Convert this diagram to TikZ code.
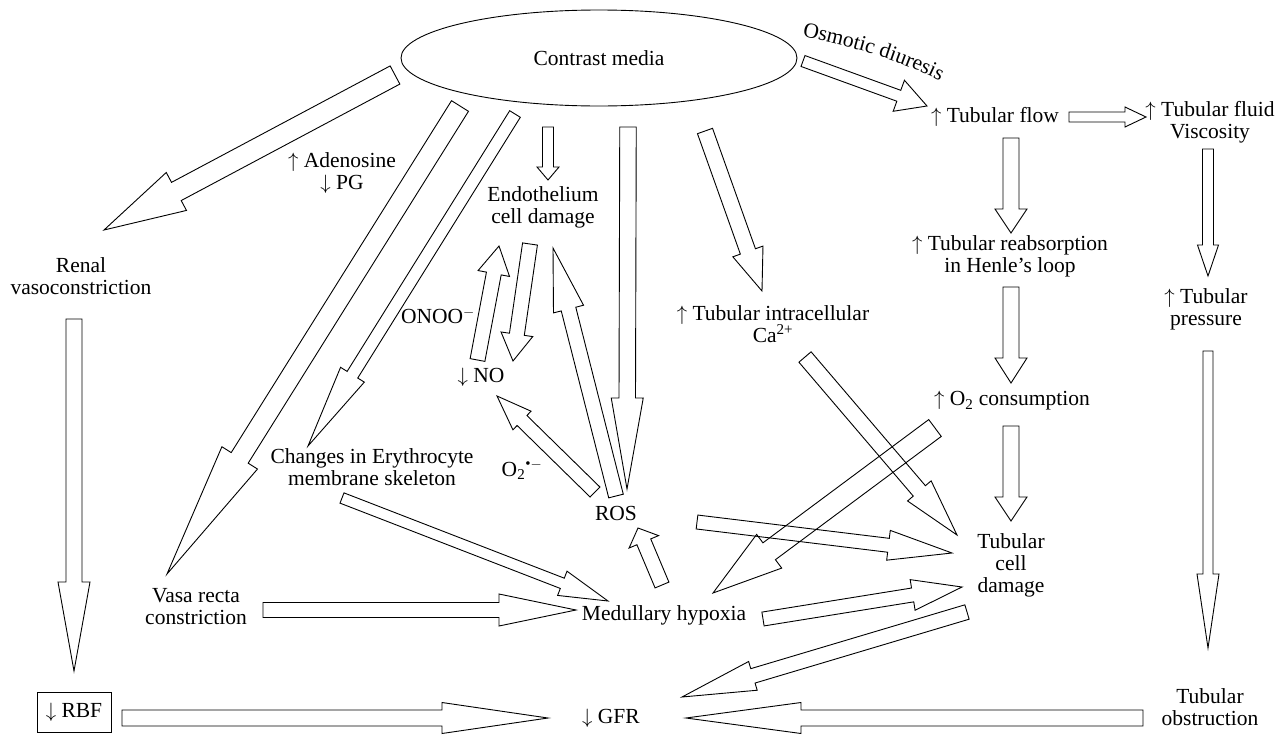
\documentclass[tikz,border=0pt]{standalone}
\usepackage{fontspec}
\setmainfont{Liberation Serif}
\usetikzlibrary{calc,shapes.geometric,decorations.text}

\tikzset{
  blockarrow/.style={draw=black, line width=0.9pt, line join=miter},
  lbl/.style={align=center, inner sep=0pt, font=\fontsize{21.5}{22}\selectfont},
}
% hollow block arrow: tail, tip, half shaft, half head, head length
\newcommand{\fatarrow}[5]{%
  \path ($(#2)!#5pt!(#1)$) coordinate (fa-b);
  \draw[blockarrow] ($(#1)!#3pt!90:(#2)$) -- ($(fa-b)!#3pt!-90:(#1)$)
    -- ($(fa-b)!#4pt!-90:(#1)$) -- (#2) -- ($(fa-b)!#4pt!90:(#1)$)
    -- ($(fa-b)!#3pt!90:(#1)$) -- ($(#1)!#3pt!-90:(#2)$) -- cycle;
}

\begin{document}
\begin{tikzpicture}[x=1pt, y=-1pt]
  \useasboundingbox (0,0) rectangle (1283,734);
  % labels
  \node[lbl, ellipse, draw, line width=0.9pt, minimum width=396pt, minimum height=96pt] (cm) at (599,58) {Contrast media};
  \path[decorate, decoration={text along path, text align=center,
      text={|\fontsize{21.5}{22}\selectfont|Osmotic diuresis}}]
    (798,36) .. controls (850,46) and (900,60) .. (944,83);
  \node[lbl] (flow) at (995,117) {$\uparrow$ Tubular flow};
  \node[lbl] (visc) at (1210,122) {$\uparrow$ Tubular fluid\\Viscosity};
  \node[lbl] (reab) at (1010,256) {$\uparrow$ Tubular reabsorption\\in Henle's loop};
  \node[lbl] (press) at (1206,309) {$\uparrow$ Tubular\\pressure};
  \node[lbl] (o2c) at (1012,401) {$\uparrow$ O\textsubscript{2} consumption};
  \node[lbl] (ca) at (773,324) {$\uparrow$ Tubular intracellular\\Ca\textsuperscript{2+}};
  \node[lbl] (tcd) at (1011,565) {Tubular\\cell\\damage};
  \node[lbl] (obs) at (1210,707) {Tubular\\obstruction};
  \node[lbl] (gfr) at (611,718) {$\downarrow$ GFR};
  \node[lbl] (hyp) at (664,615) {Medullary hypoxia};
  \node[lbl] (ros) at (616,513) {ROS};
  \node[lbl] (vasa) at (196,607) {Vasa recta\\constriction};
  \node[lbl, draw, line width=0.9pt, minimum width=74pt, minimum height=40pt] (rbf) at (74,712.5) {$\downarrow$ RBF};
  \node[lbl] (ren) at (81,276) {Renal\\vasoconstriction};
  \node[lbl] (aden) at (342,173) {$\uparrow$ Adenosine\\$\downarrow$ PG};
  \node[lbl] (endo) at (543,207) {Endothelium\\cell damage};
  \node[lbl] (no) at (481,377) {$\downarrow$ NO};
  \node[lbl] (onoo) at (438,316) {ONOO\textsuperscript{$-$}};
  \node[lbl] (o2r) at (522,470) {O\textsubscript{2}\textsuperscript{\textbullet$-$}};
  \node[lbl] (ery) at (372,467) {Changes in Erythrocyte\\membrane skeleton};

  % arrows from contrast media
  \coordinate (cm-ren-s) at (395,75);   \coordinate (cm-ren-e) at (104,230);
  \coordinate (cm-vasa-s) at (460,106); \coordinate (cm-vasa-e) at (167,574);
  \coordinate (cm-ery-s) at (515,114);  \coordinate (cm-ery-e) at (308,446);
  \coordinate (cm-endo-s) at (548,127); \coordinate (cm-endo-e) at (548,180);
  \coordinate (cm-ros-s) at (628,127);  \coordinate (cm-ros-e) at (627,489);
  \coordinate (cm-ca-s) at (705,131);   \coordinate (cm-ca-e) at (762,291);
  \coordinate (cm-flow-s) at (803,61);  \coordinate (cm-flow-e) at (927,106);
  \fatarrow{cm-ren-s}{cm-ren-e}{10.3}{21.5}{82}
  \fatarrow{cm-vasa-s}{cm-vasa-e}{10}{21}{137}
  \fatarrow{cm-ery-s}{cm-ery-e}{6.25}{14}{84}
  \fatarrow{cm-endo-s}{cm-endo-e}{5.5}{11}{13}
  \fatarrow{cm-ros-s}{cm-ros-e}{8.25}{16}{91}
  \fatarrow{cm-ca-s}{cm-ca-e}{8}{16}{42}
  \fatarrow{cm-flow-s}{cm-flow-e}{5.8}{16.5}{30}

  % tubular side
  \coordinate (flow-visc-s) at (1069,117);  \coordinate (flow-visc-e) at (1146,117);
  \coordinate (flow-reab-s) at (1011,138);  \coordinate (flow-reab-e) at (1011,233);
  \coordinate (visc-press-s) at (1208,149); \coordinate (visc-press-e) at (1208,276);
  \coordinate (reab-o2c-s) at (1011,287);   \coordinate (reab-o2c-e) at (1011,383);
  \coordinate (press-obs-s) at (1208,351);  \coordinate (press-obs-e) at (1208,648);
  \coordinate (o2c-tcd-s) at (1011,426);    \coordinate (o2c-tcd-e) at (1011,521);
  \coordinate (ca-tcd-s) at (805,357);      \coordinate (ca-tcd-e) at (957,535);
  \coordinate (o2c-hyp-s) at (935,428);     \coordinate (o2c-hyp-e) at (713,593);
  \fatarrow{flow-visc-s}{flow-visc-e}{5}{10}{21}
  \fatarrow{flow-reab-s}{flow-reab-e}{8}{16}{24}
  \fatarrow{visc-press-s}{visc-press-e}{5.5}{10.5}{31}
  \fatarrow{reab-o2c-s}{reab-o2c-e}{8}{16}{25}
  \fatarrow{press-obs-s}{press-obs-e}{5}{11}{74}
  \fatarrow{o2c-tcd-s}{o2c-tcd-e}{8}{16}{24}
  \fatarrow{ca-tcd-s}{ca-tcd-e}{8}{15.5}{58}
  \fatarrow{o2c-hyp-s}{o2c-hyp-e}{10.5}{21}{70}

  % medulla
  \coordinate (ren-rbf-s) at (74,319);   \coordinate (ren-rbf-e) at (74,671);
  \coordinate (ery-hyp-s) at (342,498);  \coordinate (ery-hyp-e) at (608,601);
  \coordinate (vasa-hyp-s) at (263,610); \coordinate (vasa-hyp-e) at (576,610);
  \coordinate (hyp-ros-s) at (662,585);  \coordinate (hyp-ros-e) at (638,528);
  \coordinate (ros-endo-s) at (616,496); \coordinate (ros-endo-e) at (553,248);
  \coordinate (ros-no-s) at (595,492);   \coordinate (ros-no-e) at (497,396);
  \coordinate (endo-no-s) at (530,244);  \coordinate (endo-no-e) at (513,361);
  \coordinate (no-endo-s) at (477.5,360); \coordinate (no-endo-e) at (499,246);
  \coordinate (ros-tcd-s) at (697,522);  \coordinate (ros-tcd-e) at (952,553);
  \coordinate (hyp-tcd-s) at (763,619);  \coordinate (hyp-tcd-e) at (962,587);
  \fatarrow{ren-rbf-s}{ren-rbf-e}{8}{16}{89}
  \fatarrow{ery-hyp-s}{ery-hyp-e}{5.5}{13}{49}
  \fatarrow{vasa-hyp-s}{vasa-hyp-e}{7.5}{16}{77}
  \fatarrow{hyp-ros-s}{hyp-ros-e}{7.5}{16}{15}
  \fatarrow{ros-endo-s}{ros-endo-e}{7.5}{15.5}{63}
  \fatarrow{ros-no-s}{ros-no-e}{7}{13}{35}
  \fatarrow{endo-no-s}{endo-no-e}{7.5}{16}{27}
  \fatarrow{no-endo-s}{no-endo-e}{7.5}{16}{28}
  \fatarrow{ros-tcd-s}{ros-tcd-e}{7}{15}{64}
  \fatarrow{hyp-tcd-s}{hyp-tcd-e}{7}{15.5}{50}

  % into GFR
  \coordinate (tcd-gfr-s) at (967,612);  \coordinate (tcd-gfr-e) at (682,697);
  \coordinate (rbf-gfr-s) at (122,718);  \coordinate (rbf-gfr-e) at (548,718);
  \coordinate (obs-gfr-s) at (1143,718); \coordinate (obs-gfr-e) at (686,718);
  \fatarrow{tcd-gfr-s}{tcd-gfr-e}{7.5}{15}{74}
  \fatarrow{rbf-gfr-s}{rbf-gfr-e}{8}{15.5}{106}
  \fatarrow{obs-gfr-s}{obs-gfr-e}{8}{15.5}{115}
\end{tikzpicture}
\end{document}
